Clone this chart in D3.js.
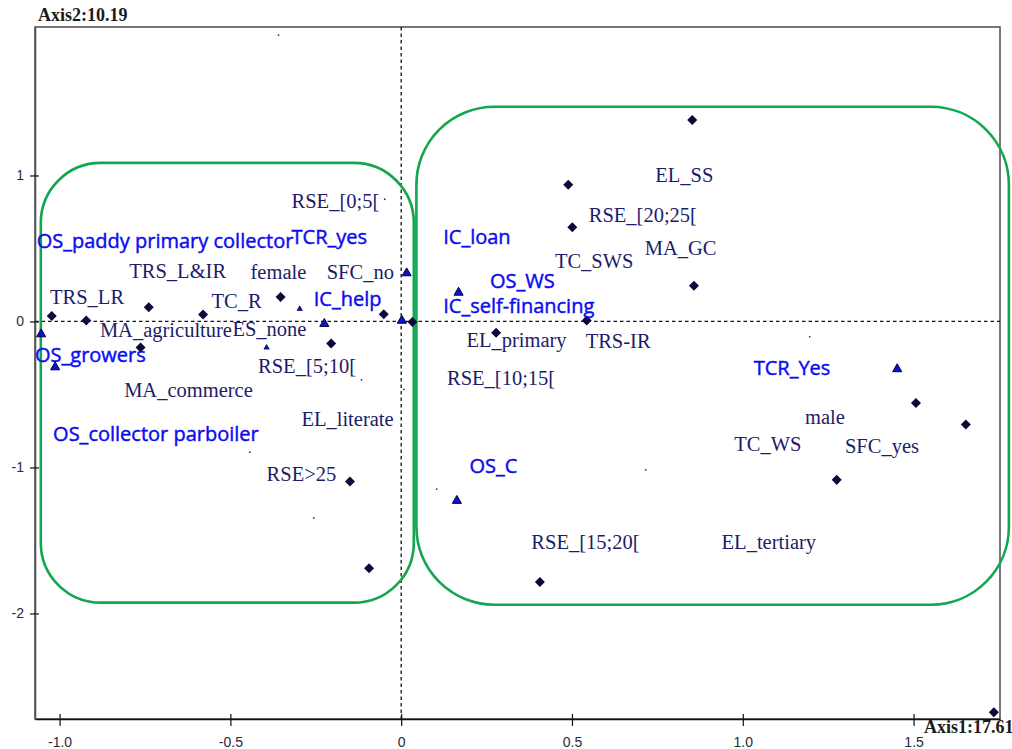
<!DOCTYPE html>
<html>
<head>
<meta charset="utf-8">
<script src="https://cdn.jsdelivr.net/npm/d3@7"></script>
<style>
  html, body { margin: 0; padding: 0; background: #fff; }
  svg { display: block; }
</style>
</head>
<body>
<svg id="chart" width="1012" height="749"></svg>
<script>
// ---------- DATA ----------
const xTicks = [-1.0, -0.5, 0, 0.5, 1.0, 1.5];
const xTickLabels = ["-1.0", "-0.5", "0", "0.5", "1.0", "1.5"];
const yTicks = [1, 0, -1, -2];
const yTickLabels = ["1", "0", "-1", "-2"];
const axis1Title = "Axis1:17.61";
const axis2Title = "Axis2:10.19";

// active variable categories (diamonds)
const diamondX = [0.852, 0.489, 0.501, 0.857, 0.543, 0.278, 0.033, -0.051, -0.205, -0.353, -0.580, -0.739, -0.922, -1.023, -0.763, -0.150, -0.094, 0.406, 1.275, 1.507, 1.653, 1.735];
const diamondY = [1.380, 0.937, 0.645, 0.244, 0.006, -0.078, -0.003, 0.050, -0.151, 0.168, 0.047, 0.098, 0.006, 0.038, -0.179, -1.096, -1.691, -1.784, -1.085, -0.559, -0.706, -2.677];

// supplementary categories (triangles)
const triangleX = [0.016, 0.168, 0.002, -0.225, -1.054, -1.013, 0.163, 1.452];
const triangleY = [0.331, 0.198, 0.006, -0.016, -0.087, -0.313, -1.228, -0.326];
const smallTriangleX = [-0.297, -0.394];
const smallTriangleY = [0.086, -0.179];

// tiny points
const dotX = [-0.359, -0.048, -0.116, 0.008, -0.443, -0.256, 0.104, 0.716, 1.196];
const dotY = [1.962, 0.837, -0.400, -0.465, -0.895, -1.346, -1.148, -1.016, -0.105];

// labels (serif, dark navy)
const darkLabels = ["RSE_[0;5[", "TRS_L&IR", "female", "SFC_no", "TRS_LR", "TC_R", "MA_agriculture", "ES_none", "RSE_[5;10[", "MA_commerce", "EL_literate", "RSE>25", "EL_SS", "RSE_[20;25[", "MA_GC", "TC_SWS", "EL_primary", "TRS-IR", "RSE_[10;15[", "male", "TC_WS", "SFC_yes", "RSE_[15;20[", "EL_tertiary"];
const darkLabelX = [-0.321, -0.796, -0.441, -0.218, -1.028, -0.555, -0.882, -0.494, -0.419, -0.811, -0.292, -0.394, 0.744, 0.549, 0.713, 0.450, 0.191, 0.540, 0.134, 1.182, 0.975, 1.299, 0.381, 0.938];
const darkLabelY = [0.775, 0.296, 0.290, 0.294, 0.118, 0.091, -0.103, -0.099, -0.350, -0.514, -0.713, -1.096, 0.952, 0.684, 0.456, 0.365, -0.172, -0.185, -0.437, -0.701, -0.890, -0.901, -1.559, -1.559];

// labels (sans, blue)
const blueLabels = ["OS_paddy primary collector", "TCR_yes", "IC_help", "OS_growers", "OS_collector parboiler", "IC_loan", "OS_WS", "IC_self-financing", "TCR_Yes", "OS_C"];
const blueLabelX = [-1.067, -0.321, -0.256, -1.072, -1.019, 0.123, 0.260, 0.123, 1.032, 0.200];
const blueLabelY = [0.502, 0.529, 0.107, -0.281, -0.822, 0.531, 0.228, 0.061, -0.365, -1.038];

// cluster outlines [xmin, xmax, ymax, ymin]
const groupLeft = [-1.055, 0.037, 1.086, -1.926];
const groupRight = [0.0445, 1.779, 1.471, -1.940];

// ---------- CHART ----------
const svg = d3.select("#chart");
const L = 35, R = 1000, T = 27, B = 719;
const x = d3.scaleLinear().domain([-1.072, 1.753]).range([L, R]);
const y = d3.scaleLinear().domain([2.017, -2.723]).range([T, B]);

// frame
svg.append("rect")
  .attr("x", L).attr("y", T).attr("width", R - L).attr("height", B - T)
  .attr("fill", "none").attr("stroke", "#555").attr("stroke-width", 1.6);

// dashed zero lines
svg.append("line")
  .attr("x1", x(0)).attr("x2", x(0)).attr("y1", T).attr("y2", B)
  .attr("stroke", "#111").attr("stroke-width", 1.3).attr("stroke-dasharray", "3.5,3");
svg.append("line")
  .attr("x1", L).attr("x2", R).attr("y1", y(0)).attr("y2", y(0))
  .attr("stroke", "#111").attr("stroke-width", 1.3).attr("stroke-dasharray", "3.5,3");

// axes
const xAxis = svg.append("g")
  .attr("transform", `translate(0,${B})`)
  .call(d3.axisBottom(x).tickValues(xTicks).tickFormat((d, i) => xTickLabels[i]).tickSizeInner(7).tickSizeOuter(0).tickPadding(11));
xAxis.select(".domain").attr("stroke", "#111").attr("stroke-width", 1.4);
xAxis.selectAll(".tick line").attr("y1", -5).attr("stroke", "#111").attr("stroke-width", 1.2);
xAxis.selectAll(".tick text").attr("font-family", "'Liberation Sans', Arial, sans-serif").attr("font-size", 14).attr("fill", "#2a2a3a");

const yAxis = svg.append("g")
  .attr("transform", `translate(${L},0)`)
  .call(d3.axisLeft(y).tickValues(yTicks).tickFormat((d, i) => yTickLabels[i]).tickSizeInner(5).tickSizeOuter(0).tickPadding(8));
yAxis.select(".domain").attr("stroke", "#555").attr("stroke-width", 1.6);
yAxis.selectAll(".tick line").attr("x2", 4).attr("x1", -5).attr("stroke", "#111").attr("stroke-width", 1.2);
yAxis.selectAll(".tick text").attr("x", -11).attr("font-family", "'Liberation Sans', Arial, sans-serif").attr("font-size", 14).attr("fill", "#2a2a3a");

// axis titles
svg.append("text").attr("x", 38).attr("y", 21).text(axis2Title)
  .attr("font-family", "'Liberation Serif', 'Times New Roman', serif").attr("font-weight", "bold")
  .attr("font-size", 18).attr("fill", "#1a1a1a");
svg.append("text").attr("x", 924).attr("y", 733).text(axis1Title)
  .attr("font-family", "'Liberation Serif', 'Times New Roman', serif").attr("font-weight", "bold")
  .attr("font-size", 18).attr("fill", "#1a1a1a");

// green cluster outlines
function roundRect(g, r) {
  svg.append("rect")
    .attr("x", x(g[0])).attr("y", y(g[2]))
    .attr("width", x(g[1]) - x(g[0])).attr("height", y(g[3]) - y(g[2]))
    .attr("rx", r).attr("ry", r)
    .attr("fill", "none").attr("stroke", "#12a64f").attr("stroke-width", 2.6);
}
roundRect(groupLeft, 60);
roundRect(groupRight, 78);

// tiny dots
svg.append("g").selectAll("circle").data(dotX).join("circle")
  .attr("cx", (d, i) => x(dotX[i])).attr("cy", (d, i) => y(dotY[i]))
  .attr("r", 0.9).attr("fill", "#333");

// diamonds
const diamond = d3.symbol(d3.symbolDiamond2, 64);
svg.append("g").selectAll("path").data(diamondX).join("path")
  .attr("d", diamond)
  .attr("transform", (d, i) => `translate(${x(diamondX[i])},${y(diamondY[i])})`)
  .attr("fill", "#0a0a3c");

// triangles
const tri = d3.symbol(d3.symbolTriangle, 36);
svg.append("g").selectAll("path").data(triangleX).join("path")
  .attr("d", tri)
  .attr("transform", (d, i) => `translate(${x(triangleX[i])},${y(triangleY[i])})`)
  .attr("fill", "#1010d8").attr("stroke", "#000033").attr("stroke-width", 1);
const triSmall = d3.symbol(d3.symbolTriangle, 12);
svg.append("g").selectAll("path").data(smallTriangleX).join("path")
  .attr("d", triSmall)
  .attr("transform", (d, i) => `translate(${x(smallTriangleX[i])},${y(smallTriangleY[i])})`)
  .attr("fill", "#1010d8").attr("stroke", "#000033").attr("stroke-width", 0.7);

// labels
svg.append("g").selectAll("text").data(darkLabels).join("text")
  .attr("x", (d, i) => x(darkLabelX[i])).attr("y", (d, i) => y(darkLabelY[i]))
  .text(d => d)
  .attr("font-family", "'Liberation Serif', 'Times New Roman', serif")
  .attr("font-size", 20.5).attr("fill", "#1c1c6a");

svg.append("g").selectAll("text").data(blueLabels).join("text")
  .attr("x", (d, i) => x(blueLabelX[i])).attr("y", (d, i) => y(blueLabelY[i]))
  .text(d => d)
  .attr("font-family", "'Open Sans', sans-serif")
  .attr("font-size", 20).attr("font-weight", 500).attr("fill", "#0c0cf2")
  .attr("stroke", "#0c0cf2").attr("stroke-width", 0.45);
</script>
</body>
</html>
